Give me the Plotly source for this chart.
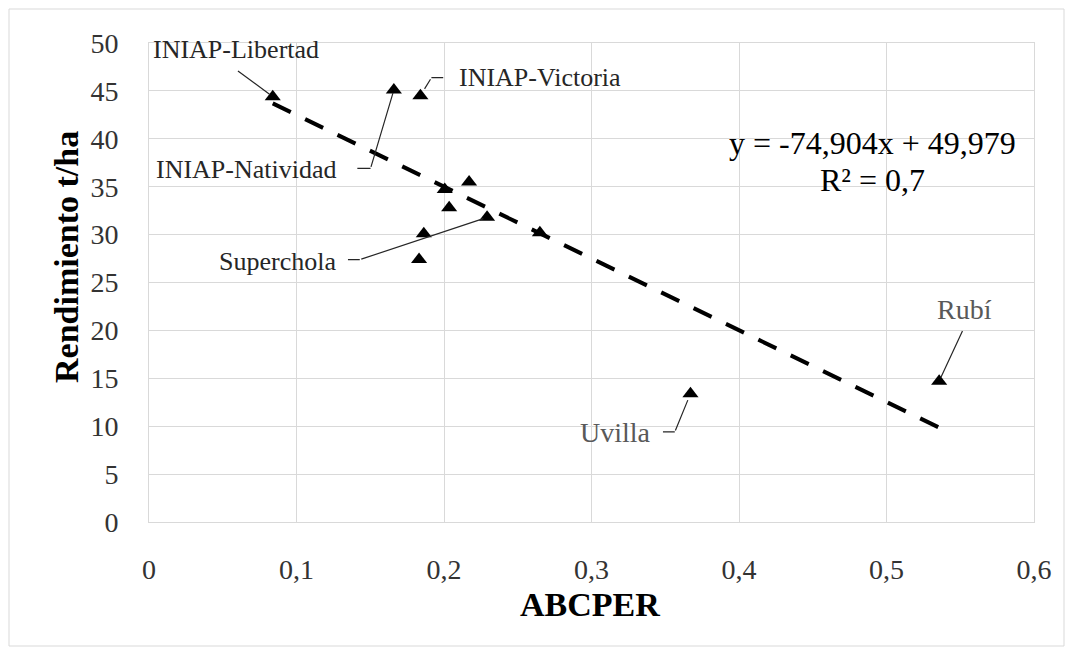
import plotly.graph_objects as go

# ---- data ----
varieties = ["INIAP-Libertad", "INIAP-Natividad", "INIAP-Victoria", "v4", "v5", "v6",
             "Superchola", "v8", "v9", "v10", "Uvilla", "Rubí"]
abcper = [0.0839, 0.166, 0.184, 0.2005, 0.217, 0.2035, 0.2292, 0.1863, 0.1831, 0.265, 0.3671, 0.5357]
rendimiento = [44.4, 45.1, 44.5, 34.7, 35.5, 32.8, 31.8, 30.1, 27.4, 30.2, 13.4, 14.7]
slope = -74.904
intercept = 49.979
r2_text = "R² = 0,7"
eq_text = "y = -74,904x + 49,979"
x_ticks = [0, 0.1, 0.2, 0.3, 0.4, 0.5, 0.6]
x_ticklabels = ["0", "0,1", "0,2", "0,3", "0,4", "0,5", "0,6"]
y_ticks = [0, 5, 10, 15, 20, 25, 30, 35, 40, 45, 50]

# ---- layout geometry (pixels) ----
W, H = 1073, 655
L, R, T, B = 149, 39, 43, 133
PW, PH = W - L - R, H - T - B
XMAX, YMAX = 0.6, 50.0


def X(px):
    return (px - L) / PW * XMAX


def Y(py):
    return (H - B - py) / PH * YMAX


SERIF = "Liberation Serif, Times New Roman, serif"

fig = go.Figure()

# trendline from equation over data range
xmin, xmax = min(abcper), max(abcper)
fig.add_trace(go.Scatter(
    x=[xmin, xmax], y=[slope * xmin + intercept, slope * xmax + intercept],
    mode="lines", line=dict(color="black", width=4, dash="20px,16px"),
    hoverinfo="skip", showlegend=False))

fig.add_trace(go.Scatter(
    x=abcper, y=rendimiento, mode="markers", text=varieties,
    marker=dict(symbol="triangle-up", size=14, color="black"),
    showlegend=False, cliponaxis=False))

ann = []
lab_font = dict(family=SERIF, size=26, color="#262626")
gray_font = dict(family=SERIF, size=28, color="#595959")

# text labels (centres in pixels)
labels = [
    ("INIAP-Libertad", 236, 49, lab_font),
    ("INIAP-Natividad", 246, 169, lab_font),
    ("INIAP-Victoria", 539.5, 77, lab_font),
    ("Superchola", 277.5, 261, lab_font),
    ("Uvilla", 615, 432.5, gray_font),
    ("Rubí", 964.7, 309, gray_font),
]
for t, cx, cy, f in labels:
    ann.append(dict(x=X(cx), y=Y(cy), xref="x", yref="y", text=t, showarrow=False,
                    font=f, xanchor="center", yanchor="middle"))

idx = {v: i for i, v in enumerate(varieties)}
line_col = "#262626"
# leader lines: (variety, tail offset dx, dy in px, standoff, elbow horizontal length)
leaders = [
    ("INIAP-Libertad", -36.3, -26.7, 4, 0),
    ("INIAP-Natividad", -23.3, 78.4, 3, -14.7),
    ("INIAP-Victoria", 11, -18, 8, 13.3),
    ("Superchola", -127.3, 42.3, 4, -13.3),
    ("Uvilla", -15.7, 38.3, 7, -13.3),
    ("Rubí", 24, -51.7, 4, 0),
]
for v, dx, dy, so, hl in leaders:
    i = idx[v]
    ann.append(dict(x=abcper[i], y=rendimiento[i], xref="x", yref="y", text="",
                    showarrow=True, arrowhead=0, arrowwidth=1.2, arrowcolor=line_col,
                    ax=dx, ay=dy, standoff=so))
    if hl:
        ann.append(dict(x=abcper[i], y=rendimiento[i], xref="x", yref="y", text="",
                        xshift=dx, yshift=-dy,
                        showarrow=True, arrowhead=0, arrowwidth=1.2, arrowcolor=line_col,
                        ax=hl, ay=0, standoff=0))

# equation
eq_font = dict(family=SERIF, size=32, color="black")
ann.append(dict(x=X(872), y=Y(143), xref="x", yref="y", text=eq_text, showarrow=False,
                font=eq_font, xanchor="center", yanchor="middle"))
ann.append(dict(x=X(872), y=Y(180), xref="x", yref="y", text=r2_text, showarrow=False,
                font=eq_font, xanchor="center", yanchor="middle"))

# axis titles
title_font = dict(family=SERIF, size=34, color="black")
ann.append(dict(x=(590 - L) / PW, y=(H - B - 604) / PH, xref="paper", yref="paper",
                text="<b>ABCPER</b>", showarrow=False, font=title_font,
                xanchor="center", yanchor="middle"))
ann.append(dict(x=(66 - L) / PW, y=(H - B - 257) / PH, xref="paper", yref="paper",
                text="<b>Rendimiento t/ha</b>", showarrow=False, font=title_font,
                textangle=-90, xanchor="center", yanchor="middle"))

grid = "#d9d9d9"
tick_font = dict(family=SERIF, size=28, color="#333333")
fig.update_layout(
    width=W, height=H,
    margin=dict(l=L, r=R, t=T, b=B, pad=0),
    paper_bgcolor="white", plot_bgcolor="white",
    xaxis=dict(range=[0, XMAX], tickvals=x_ticks, ticktext=x_ticklabels,
               showgrid=True, gridcolor=grid, gridwidth=1, zeroline=False,
               showline=True, linecolor=grid, linewidth=1, mirror=True,
               ticks="", ticklabelstandoff=22, tickfont=tick_font, fixedrange=True),
    yaxis=dict(range=[0, YMAX], tickvals=y_ticks,
               showgrid=True, gridcolor=grid, gridwidth=1, zeroline=False,
               showline=True, linecolor=grid, linewidth=1, mirror=True,
               ticks="", ticklabelstandoff=24, tickfont=tick_font, fixedrange=True),
    annotations=ann,
    shapes=[dict(type="rect", xref="paper", yref="paper",
                 x0=(9 - L) / PW, x1=(1064 - L) / PW,
                 y0=(H - B - 646) / PH, y1=(H - B - 9) / PH,
                 line=dict(color=grid, width=1), fillcolor="rgba(0,0,0,0)", layer="below")],
    showlegend=False,
)

fig.write_html("out.html")
